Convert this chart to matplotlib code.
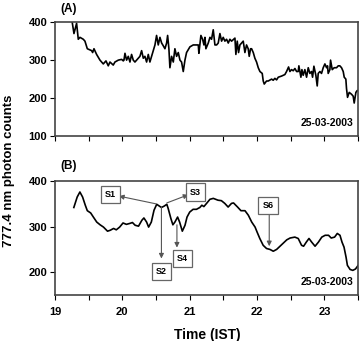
import numpy as np
import matplotlib.pyplot as plt

plt.rcParams['font.family'] = ['Liberation Sans', 'DejaVu Sans']
plt.rcParams['font.weight'] = 'bold'

# panel A: raw 777.4 nm counts
time_a = [19.247, 19.282, 19.321, 19.346, 19.371, 19.420, 19.445, 19.480, 19.544, 19.559,
          19.579, 19.618, 19.668, 19.717, 19.757, 19.791, 19.816, 19.865, 19.890, 19.940,
          19.989, 20.014, 20.024, 20.039, 20.063, 20.088, 20.113, 20.137, 20.162, 20.187,
          20.212, 20.261, 20.286, 20.311, 20.335, 20.360, 20.385, 20.409, 20.434, 20.459,
          20.484, 20.508, 20.533, 20.558, 20.583, 20.607, 20.632, 20.657, 20.672, 20.691,
          20.706, 20.731, 20.756, 20.780, 20.805, 20.830, 20.855, 20.879, 20.904, 20.929,
          20.953, 21.003, 21.052, 21.102, 21.127, 21.136, 21.166, 21.191, 21.211, 21.226,
          21.240, 21.275, 21.300, 21.324, 21.349, 21.374, 21.399, 21.423, 21.448, 21.473,
          21.497, 21.522, 21.547, 21.572, 21.596, 21.621, 21.671, 21.685, 21.705, 21.725,
          21.745, 21.769, 21.794, 21.819, 21.843, 21.868, 21.883, 21.903, 21.918, 21.943,
          21.967, 21.992, 22.017, 22.042, 22.076, 22.091, 22.106, 22.140, 22.165, 22.215,
          22.239, 22.264, 22.289, 22.314, 22.363, 22.412, 22.437, 22.467, 22.487, 22.511,
          22.536, 22.561, 22.586, 22.610, 22.620, 22.650, 22.665, 22.684, 22.709, 22.734,
          22.759, 22.783, 22.808, 22.823, 22.843, 22.872, 22.892, 22.907, 22.932, 22.956,
          22.981, 23.006, 23.031, 23.045, 23.055, 23.080, 23.090, 23.115, 23.144, 23.179,
          23.204, 23.228, 23.253, 23.278, 23.293, 23.317, 23.327, 23.342, 23.367, 23.402,
          23.426, 23.441, 23.466, 23.486, 23.500]
counts_a = [410, 370, 397, 355, 360, 355, 350, 330, 325, 320,
            330, 315, 300, 290, 298, 285, 295, 287, 295, 300,
            302, 298, 300, 318, 300, 310, 295, 315, 300, 295,
            300, 310, 325, 305, 310, 295, 315, 295, 310, 325,
            340, 365, 340, 360, 345, 338, 330, 345, 365, 330,
            280, 310, 295, 330, 310, 320, 300, 295, 270, 300,
            320, 335, 340, 340, 340, 318, 365, 355, 340, 360,
            330, 345, 360, 355, 380, 340, 340, 345, 370, 350,
            360, 350, 355, 345, 355, 350, 358, 315, 350, 320,
            340, 345, 350, 320, 340, 330, 310, 330, 330, 320,
            305, 295, 280, 270, 265, 245, 237, 245, 245, 250,
            247, 252, 248, 255, 258, 262, 270, 282, 270, 275,
            272, 278, 270, 270, 285, 255, 275, 260, 275, 255,
            280, 265, 270, 255, 284, 260, 232, 265, 270, 265,
            280, 290, 280, 285, 265, 275, 300, 275, 280, 280,
            285, 285, 280, 270, 255, 250, 225, 202, 215, 210,
            205, 187, 215, 220, 220]

# panel B: smoothed counts
time_b = [19.28, 19.33, 19.37, 19.41, 19.45, 19.48, 19.53, 19.57, 19.62, 19.67,
          19.72, 19.78, 19.82, 19.87, 19.91, 19.96, 20.01, 20.06, 20.11, 20.15,
          20.19, 20.24, 20.29, 20.32, 20.36, 20.39, 20.43, 20.47, 20.51, 20.55,
          20.58, 20.62, 20.66, 20.68, 20.72, 20.75, 20.78, 20.82, 20.85, 20.89,
          20.93, 20.96, 21.00, 21.05, 21.10, 21.15, 21.18, 21.21, 21.25, 21.30,
          21.35, 21.42, 21.47, 21.52, 21.57, 21.62, 21.65, 21.71, 21.76, 21.82,
          21.87, 21.92, 21.97, 22.00, 22.04, 22.09, 22.14, 22.19, 22.24, 22.29,
          22.34, 22.39, 22.44, 22.49, 22.56, 22.61, 22.66, 22.69, 22.73, 22.77,
          22.81, 22.86, 22.91, 22.96, 23.01, 23.06, 23.10, 23.15, 23.19, 23.23,
          23.26, 23.29, 23.32, 23.34, 23.38, 23.42, 23.46, 23.50]
counts_b = [342, 365, 376, 365, 347, 335, 330, 321, 310, 304,
            299, 290, 292, 296, 293, 299, 308, 305, 307, 309,
            303, 301, 314, 319, 310, 299, 310, 336, 349, 345,
            342, 345, 349, 340, 318, 304, 310, 321, 310, 290,
            303, 321, 332, 338, 338, 342, 347, 344, 351, 360,
            362, 358, 357, 351, 343, 351, 352, 343, 335, 335,
            325, 310, 299, 288, 274, 259, 252, 250, 246, 250,
            257, 264, 271, 275, 277, 274, 259, 257, 266, 274,
            266, 257, 266, 277, 281, 281, 275, 277, 285, 281,
            266, 255, 233, 215, 206, 204, 207, 215]

# event labels: (name, box position, arrow tail, arrow head)
event_names = ['S1', 'S2', 'S3', 'S4', 'S6']
box_x = [19.82, 20.58, 21.08, 20.89, 22.16]
box_y = [370, 202, 376, 230, 346]
tail_x = [20.50, 20.58, 20.66, 20.81, 22.18]
tail_y = [350, 343, 352, 304, 330]
head_x = [19.95, 20.58, 20.98, 20.81, 22.18]
head_y = [367, 230, 370, 254, 257]

fig = plt.figure(figsize=(3.64, 3.41), dpi=100)
ax_a = fig.add_axes([0.151, 0.601, 0.833, 0.334])
ax_b = fig.add_axes([0.151, 0.135, 0.833, 0.334])

for ax in (ax_a, ax_b):
    ax.set_xlim(19, 23.5)
    ax.set_xticks(np.arange(19, 23.51, 0.5))
    ax.tick_params(direction='out', length=3.5, width=0.8, labelsize=8, pad=2)
    ax.tick_params(axis='x', pad=5)
    for s in ax.spines.values():
        s.set_linewidth(1.2)
        s.set_color('#444444')

ax_a.plot(time_a, counts_a, color='black', lw=1.2)
ax_a.set_ylim(100, 400)
ax_a.set_yticks([100, 200, 300, 400])
ax_a.set_xticklabels([])
ax_a.text(0.985, 0.07, '25-03-2003', transform=ax_a.transAxes, ha='right',
          va='bottom', fontsize=7.5, fontweight='bold')

ax_b.plot(time_b, counts_b, color='black', lw=1.2)
ax_b.set_ylim(150, 400)
ax_b.set_yticks([200, 300, 400])
ax_b.set_xticklabels(['19', '', '20', '', '21', '', '22', '', '23', ''])
ax_b.text(0.985, 0.07, '25-03-2003', transform=ax_b.transAxes, ha='right',
          va='bottom', fontsize=7.5, fontweight='bold')

for i, name in enumerate(event_names):
    ax_b.annotate('', xy=(head_x[i], head_y[i]), xytext=(tail_x[i], tail_y[i]),
                  arrowprops=dict(arrowstyle='-|>', color='#555555', lw=0.8,
                                  mutation_scale=7, shrinkA=0, shrinkB=0))
    ax_b.text(box_x[i], box_y[i], name, ha='center', va='center', fontsize=6.5,
              fontweight='bold',
              bbox=dict(boxstyle='square,pad=0.45', fc='white', ec='#666666', lw=0.9))

fig.text(0.165, 0.975, '(A)', fontsize=8.5, fontweight='bold', va='center')
fig.text(0.165, 0.513, '(B)', fontsize=8.5, fontweight='bold', va='center')
fig.text(0.025, 0.5, '777.4 nm photon counts', rotation=90, ha='center', va='center',
         fontsize=9.5, fontweight='bold')
fig.text(0.57, 0.018, 'Time (IST)', ha='center', va='center', fontsize=10,
         fontweight='bold')

fig.savefig('out.png', dpi=100)
